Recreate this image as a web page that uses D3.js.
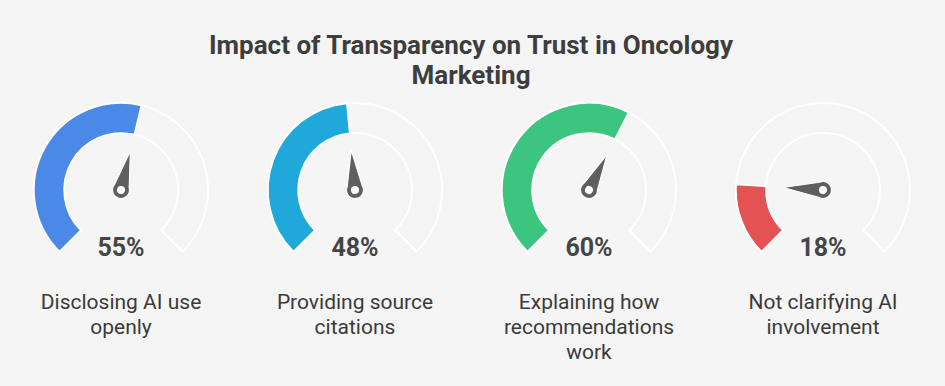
<!DOCTYPE html>
<html lang="en">
<head>
    <meta charset="UTF-8">
    <script src="https://d3js.org/d3.v7.min.js"></script>
    <title>Gauges</title>
    <style>
    body { margin: 0; background: #f5f5f5; }
    svg text { font-family: Roboto, "Noto Sans", sans-serif; }
    </style>
</head>
<body>
    <svg id="chart" width="945" height="386"></svg>
    <script>
        // Data
        const title = 'Impact of Transparency on Trust in Oncology Marketing';
        const categories = ['Disclosing AI use openly', 'Providing source citations', 'Explaining how recommendations work', 'Not clarifying AI involvement'];
        const values = [55, 48, 60, 18];
        const colors = ['#4a89e6', '#1ea9da', '#3cc57f', '#e45353'];

        const svg = d3.select('svg#chart');
        const width = +svg.attr('width');

        svg.append('rect')
            .attr('width', width)
            .attr('height', svg.attr('height'))
            .attr('fill', '#f5f5f5');

        // wrap text into lines by measured width
        function wrap(textSel, str, maxWidth, lineHeight) {
            const words = str.split(' ');
            let line = [];
            let tspan = textSel.append('tspan').attr('x', textSel.attr('x')).attr('dy', 0);
            words.forEach(w => {
                line.push(w);
                tspan.text(line.join(' '));
                if (tspan.node().getComputedTextLength() > maxWidth && line.length > 1) {
                    line.pop();
                    tspan.text(line.join(' '));
                    line = [w];
                    tspan = textSel.append('tspan')
                        .attr('x', textSel.attr('x'))
                        .attr('dy', lineHeight)
                        .text(w);
                }
            });
        }

        // Title
        const titleText = svg.append('text')
            .attr('x', 471)
            .attr('y', 54)
            .attr('text-anchor', 'middle')
            .attr('fill', '#3d3d3d')
            .style('font-size', '26px')
            .style('font-weight', 'bold');
        wrap(titleText, title, 580, 30);

        // Scales
        const xScale = d3.scalePoint()
            .domain(categories)
            .range([121, 823]);

        const angleScale = d3.scaleLinear()
            .domain([0, 100])
            .range([-0.75 * Math.PI, 0.75 * Math.PI]);

        const cy = 190;
        const innerR = 57;
        const outerR = 87;

        const arc = d3.arc()
            .innerRadius(innerR)
            .outerRadius(outerR)
            .startAngle(angleScale(0));

        const gauges = svg.selectAll('g.gauge')
            .data(categories.map((c, i) => ({ cat: c, value: values[i], color: colors[i] })))
            .enter()
            .append('g')
            .attr('class', 'gauge')
            .attr('transform', d => `translate(${xScale(d.cat)},${cy})`);

        // track
        gauges.append('path')
            .attr('d', arc({ endAngle: angleScale(100) }))
            .attr('fill', '#f5f5f5')
            .attr('stroke', '#ffffff')
            .attr('stroke-width', 2);

        // value arc
        gauges.append('path')
            .attr('d', d => arc({ endAngle: angleScale(d.value) }))
            .attr('fill', d => d.color)
            .attr('stroke', '#ffffff')
            .attr('stroke-width', 1.5);

        // needle
        const needle = gauges.append('g')
            .attr('transform', d => `rotate(${angleScale(d.value) * 180 / Math.PI})`);

        needle.append('path')
            .attr('d', 'M -7.5,-4 L 0,-40 L 7.5,-4 A 8.5 8.5 0 1 1 -7.5,-4 Z')
            .attr('fill', '#5f5f5f')
            .attr('stroke', '#ffffff')
            .attr('stroke-width', 1.2);

        needle.append('circle')
            .attr('r', 4)
            .attr('fill', '#ffffff');

        // percent labels
        gauges.append('text')
            .attr('x', 0)
            .attr('y', 66)
            .attr('text-anchor', 'middle')
            .attr('fill', '#454545')
            .style('font-size', '25px')
            .style('font-weight', 'bold')
            .text(d => d.value + '%');

        // category labels
        gauges.each(function(d) {
            const t = d3.select(this).append('text')
                .attr('x', 0)
                .attr('y', 119)
                .attr('text-anchor', 'middle')
                .attr('fill', '#3a3a3a')
                .style('font-size', '21px');
            wrap(t, d.cat, 180, 25);
        });
    </script>
</body>
</html>
